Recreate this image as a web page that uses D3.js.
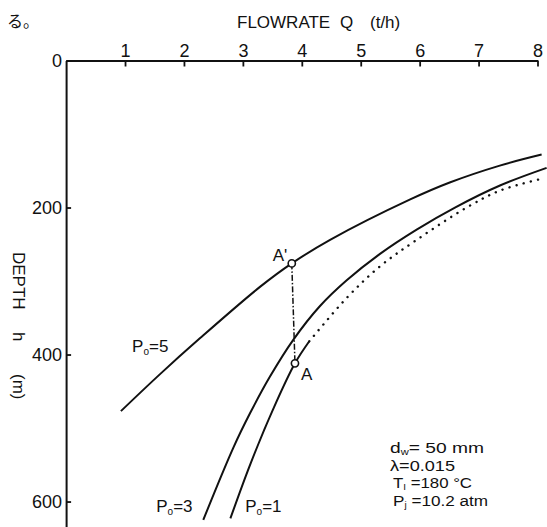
<!DOCTYPE html>
<html><head><meta charset="utf-8">
<script src="https://cdn.jsdelivr.net/npm/d3@7/dist/d3.min.js"></script>
<style>
html,body{margin:0;padding:0;background:#fff;}
svg{display:block;}
text{font-family:"Liberation Sans",Arial,sans-serif;fill:#111;}
</style></head><body>
<svg id="chart" width="547" height="527"></svg>
<script>
// Axis ticks
const qTicks = [1, 2, 3, 4, 5, 6, 7, 8];
const depthTicks = [0, 200, 400, 600];

// Flowrate Q (t/h) vs depth h (m) for each wellhead pressure Po
const po5Q = [0.93, 1.59, 2.27, 3.29, 3.83, 4.48, 5.84, 6.51, 7.36, 8.07];
const po5Depth = [477, 427, 378, 308, 276, 244, 189, 166, 143, 128];

const po3Q = [2.328, 2.837, 3.121, 3.46, 3.855, 4.309, 4.762, 5.327, 5.949, 6.599, 7.363, 8.155];
const po3Depth = [625, 527, 480, 430, 380, 334, 299, 263, 230, 200, 170, 146];

const po1Q = [2.788, 3.127, 3.516, 3.884, 4.127];
const po1Depth = [623, 549, 474, 412, 382];
// continuation of Po=1 drawn dotted
const po1DotQ = [4.127, 4.762, 5.327, 5.949, 6.798, 7.363, 8.013];
const po1DotDepth = [382, 323, 280, 244, 200, 177, 162];

// Marked points A' and A
const pointNames = ["A'", "A"];
const pointQ = [3.83, 3.884];
const pointDepth = [276, 412];

// Curve labels: pressure Po and anchor position (Q, depth)
const curveLabelPo = [5, 3, 1];
const curveLabelQ = [1.12, 1.53, 3.04];
const curveLabelDepth = [396, 614, 614];

// Condition notes
const noteMain = ["d", "λ=0.015", "T", "P"];
const noteSub = ["w", "", "I", "j"];
const noteRest = ["= 50 mm", "", " =180 °C", " =10.2 atm"];

const svg = d3.select("#chart");
const x = d3.scaleLinear().domain([0, 8]).range([66.1, 537.5]);
const y = d3.scaleLinear().domain([0, 636]).range([60.5, 528]);

const ink = "#111";

// Top axis (flowrate)
const gx = svg.append("g")
  .attr("transform", `translate(0,${y(0)})`)
  .call(d3.axisTop(x).tickValues(qTicks).tickSizeInner(-6).tickSizeOuter(0)
    .tickPadding(4).tickFormat(d3.format("d")));
gx.attr("font-size", null).attr("font-family", null);
gx.select(".domain").attr("stroke", ink).attr("stroke-width", 2);
gx.selectAll(".tick line").attr("stroke", ink).attr("stroke-width", 1.8);
gx.selectAll(".tick text").attr("font-size", 18).attr("fill", ink);

// Left axis (depth)
const gy = svg.append("g")
  .attr("transform", `translate(${x(0)},0)`)
  .call(d3.axisLeft(y).tickValues(depthTicks).tickSizeInner(-5).tickSizeOuter(0)
    .tickPadding(4).tickFormat(d3.format("d")));
gy.attr("font-size", null).attr("font-family", null);
gy.select(".domain").attr("stroke", ink).attr("stroke-width", 2);
gy.selectAll(".tick line").attr("stroke", ink).attr("stroke-width", 1.8);
gy.selectAll(".tick text").attr("font-size", 18).attr("fill", ink);

// Axis titles
const title = svg.append("text").attr("y", 28).attr("font-size", 17);
title.append("tspan").attr("x", 237).text("FLOWRATE");
title.append("tspan").attr("x", 340).text("Q");
title.append("tspan").attr("x", 370).text("(t/h)");

const yTitle = svg.append("text")
  .attr("transform", "translate(19,0) rotate(90)")
  .attr("dominant-baseline", "central")
  .attr("font-size", 17);
yTitle.append("tspan").attr("x", 252).text("DEPTH");
yTitle.append("tspan").attr("x", 332).text("h");
yTitle.append("tspan").attr("x", 374).text("(m)");

svg.append("text")
  .attr("x", 7).attr("y", 27)
  .attr("font-size", 16)
  .style("font-family", "'Noto Sans CJK JP', sans-serif")
  .text("る。");

// Curves
const line = d3.line()
  .x(d => x(d[0])).y(d => y(d[1]))
  .curve(d3.curveCatmullRom.alpha(0.5));
const zip = (a, b) => a.map((v, i) => [v, b[i]]);

svg.append("path").datum(zip(po5Q, po5Depth))
  .attr("d", line).attr("fill", "none").attr("stroke", ink).attr("stroke-width", 2);
svg.append("path").datum(zip(po3Q, po3Depth))
  .attr("d", line).attr("fill", "none").attr("stroke", ink).attr("stroke-width", 2);
svg.append("path").datum(zip(po1Q, po1Depth))
  .attr("d", line).attr("fill", "none").attr("stroke", ink).attr("stroke-width", 2);
svg.append("path").datum(zip(po1DotQ, po1DotDepth))
  .attr("d", line).attr("fill", "none").attr("stroke", ink).attr("stroke-width", 2.4)
  .attr("stroke-linecap", "round").attr("stroke-dasharray", "0.1 7.2");

// Dash-dot link A' -> A
svg.append("line")
  .attr("x1", x(pointQ[0])).attr("y1", y(pointDepth[0]))
  .attr("x2", x(pointQ[1])).attr("y2", y(pointDepth[1]))
  .attr("stroke", ink).attr("stroke-width", 1.5)
  .attr("stroke-dasharray", "6 2 1.5 2");

// Points
svg.selectAll("circle.pt").data(pointQ).join("circle")
  .attr("class", "pt")
  .attr("cx", d => x(d)).attr("cy", (d, i) => y(pointDepth[i]))
  .attr("r", 3.6).attr("fill", "#fff").attr("stroke", ink).attr("stroke-width", 1.6);

// Point labels
const pl = [[-19, -2], [6, 17]];
svg.selectAll("text.pl").data(pointNames).join("text")
  .attr("class", "pl")
  .attr("x", (d, i) => x(pointQ[i]) + pl[i][0])
  .attr("y", (d, i) => y(pointDepth[i]) + pl[i][1])
  .attr("font-size", 17)
  .text(d => d);

// Curve labels "Po=n"
curveLabelPo.forEach((p, i) => {
  const t = svg.append("text")
    .attr("x", x(curveLabelQ[i])).attr("y", y(curveLabelDepth[i]))
    .attr("font-size", 17);
  t.append("tspan").text("P");
  t.append("tspan").attr("font-size", 10).attr("dy", 3).text("o");
  t.append("tspan").attr("dy", -3).text("=" + p);
});

// Condition notes
const noteX = [390, 390, 393, 393];
const noteY = [453, 470.5, 488, 505.5];
const noteW = [94, 65, 79, 95];
noteMain.forEach((m, i) => {
  const t = svg.append("text").attr("x", noteX[i]).attr("y", noteY[i])
    .attr("font-size", 15.5)
    .attr("textLength", noteW[i]).attr("lengthAdjust", "spacingAndGlyphs")
    .style("white-space", "pre");
  t.append("tspan").text(m);
  if (noteSub[i]) {
    t.append("tspan").attr("font-size", 9).attr("dy", 2).text(noteSub[i]);
    t.append("tspan").attr("dy", -2).text(noteRest[i]);
  }
});
</script>
</body></html>
